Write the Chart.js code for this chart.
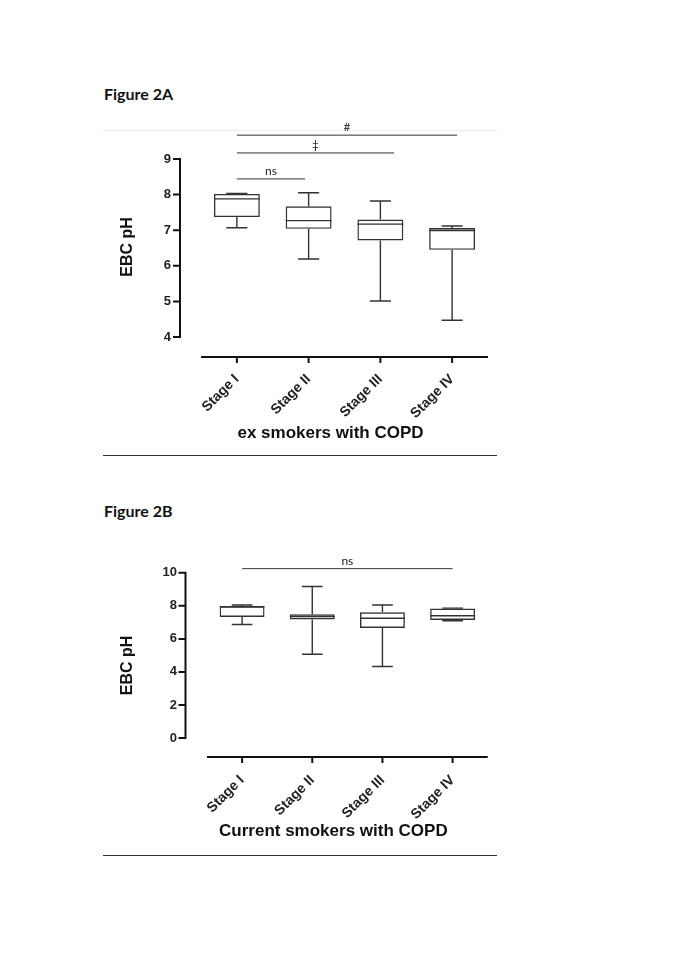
<!DOCTYPE html>
<html>
<head>
<meta charset="utf-8">
<script src="https://cdn.jsdelivr.net/npm/chart.js@4.4.0/dist/chart.umd.min.js"></script>
<style>
body{margin:0;background:#fff;width:685px;height:968px;position:relative;overflow:hidden}
.fig{position:absolute;left:104px;font:bold 16px Lato,sans-serif;color:#111}
.rule{position:absolute;left:103px;width:394px;height:1px;background:#333}
canvas{position:absolute}
</style>
</head>
<body>
<div class="fig" style="top:84px">Figure 2A</div>
<div class="rule" style="top:130px;background:#eee"></div>
<canvas id="chartA" width="400" height="335" style="left:100px;top:115px"></canvas>
<div class="rule" style="top:455px"></div>
<div class="fig" style="top:501px">Figure 2B</div>
<canvas id="chartB" width="400" height="315" style="left:100px;top:535px"></canvas>
<div class="rule" style="top:855px"></div>
<script>
const stages=["Stage I","Stage II","Stage III","Stage IV"]

// ex smokers with COPD
const minA=[7.07,6.19,5.01,4.47]
const q1A=[7.37,7.04,6.71,6.45]
const medA=[7.88,7.27,7.17,6.99]
const q3A=[8.02,7.67,7.30,7.06]
const maxA=[8.03,8.05,7.82,7.12]
const ticksA=[4,5,6,7,8,9]
const sigTextA=["ns","‡","#"]
const sigFromA=[0,0,0]
const sigToA=[0.95,2.19,3.07]
const sigLevelA=[8.44,9.17,9.67]

// current smokers with COPD
const minB=[6.87,5.07,4.33,7.10]
const q1B=[7.33,7.18,6.66,7.15]
const medB=[7.95,7.35,7.25,7.40]
const q3B=[7.97,7.49,7.61,7.84]
const maxB=[8.05,9.17,8.05,7.86]
const ticksB=[0,2,4,6,8,10]
const sigTextB=["ns"]
const sigFromB=[0]
const sigToB=[3]
const sigLevelB=[10.25]

const ink="#333"

/* medians + whiskers on top of the floating bars */
const boxExtras={
id:"boxExtras",
afterDatasetsDraw(chart,args,opts){
const {ctx,scales:{y}}=chart
const bars=chart.getDatasetMeta(0).data
ctx.save()
ctx.strokeStyle=ink
ctx.lineWidth=1.4
bars.forEach((bar,i)=>{
const cx=bar.x,half=bar.width/2,cap=bar.width*0.23
const yMed=y.getPixelForValue(opts.med[i])
const yMin=y.getPixelForValue(opts.min[i])
const yMax=y.getPixelForValue(opts.max[i])
const yQ1=y.getPixelForValue(opts.q1[i])
const yQ3=y.getPixelForValue(opts.q3[i])
ctx.beginPath()
ctx.moveTo(cx-half,yMed);ctx.lineTo(cx+half,yMed)
ctx.moveTo(cx,yQ3);ctx.lineTo(cx,yMax)
ctx.moveTo(cx-cap,yMax);ctx.lineTo(cx+cap,yMax)
ctx.moveTo(cx,yQ1);ctx.lineTo(cx,yMin)
ctx.moveTo(cx-cap,yMin);ctx.lineTo(cx+cap,yMin)
ctx.stroke()
})
ctx.restore()
}
}

/* prism style detached axes, significance bars and titles */
const prismAxes={
id:"prismAxes",
afterDraw(chart,args,opts){
const {ctx,chartArea,scales:{x,y}}=chart
const ax=chartArea.left-opts.yGap
const ay=chartArea.bottom+opts.xGap
ctx.save()
ctx.strokeStyle="#111"
ctx.lineWidth=2
ctx.beginPath()
ctx.moveTo(ax,y.getPixelForValue(y.min)+1)
ctx.lineTo(ax,y.getPixelForValue(y.max)-1)
y.ticks.forEach(t=>{
const py=y.getPixelForValue(t.value)
ctx.moveTo(ax-7,py);ctx.lineTo(ax,py)
})
ctx.moveTo(chartArea.left,ay);ctx.lineTo(chartArea.right,ay)
x.ticks.forEach((t,i)=>{
const px=x.getPixelForTick(i)
ctx.moveTo(px,ay);ctx.lineTo(px,ay+6)
})
ctx.stroke()

ctx.strokeStyle=ink
ctx.lineWidth=1
ctx.fillStyle="#222"
ctx.font="12px Lato, sans-serif"
ctx.textAlign="center"
ctx.textBaseline="bottom"
opts.sigText.forEach((s,i)=>{
const x0=x.getPixelForValue(opts.sigFrom[i])
const x1=x.getPixelForValue(opts.sigTo[i])
const py=y.getPixelForValue(opts.sigLevel[i])
ctx.beginPath()
ctx.moveTo(x0,py);ctx.lineTo(x1,py)
ctx.stroke()
ctx.fillText(s,(x0+x1)/2,py-2)
})

ctx.fillStyle="#111"
ctx.textBaseline="middle"
ctx.font="bold 17px 'Liberation Sans', Arial, sans-serif"
ctx.fillText(opts.xTitle,(chartArea.left+chartArea.right)/2-14,chartArea.bottom+opts.xTitleOffset)
ctx.translate(chartArea.left-opts.yTitleOffset,(chartArea.top+chartArea.bottom)/2+opts.yTitleShift)
ctx.rotate(-Math.PI/2)
ctx.font="bold 16px 'Liberation Sans', Arial, sans-serif"
ctx.fillText("EBC pH",0,0)
ctx.restore()
}
}

function makeChart(id,q1,q3,extras,axes,yMin,yMax,ticks,pad,xHeight,yWidth){
return new Chart(document.getElementById(id),{
type:"bar",
data:{
labels:stages,
datasets:[{
data:q1.map((v,i)=>[v,q3[i]]),
backgroundColor:"rgba(255,255,255,0)",
borderColor:ink,
borderWidth:1.4,
borderSkipped:false,
barPercentage:0.64,
categoryPercentage:1
}]
},
options:{
responsive:false,
animation:false,
layout:{padding:pad},
plugins:{
legend:{display:false},
tooltip:{enabled:false},
boxExtras:extras,
prismAxes:axes
},
scales:{
x:{
grid:{display:false,drawTicks:false},
border:{display:false},
ticks:{
color:"#222",
font:{family:"'Liberation Sans', Arial, sans-serif",size:14,weight:"bold"},
minRotation:45,maxRotation:45,autoSkip:false,padding:34
},
afterFit(s){s.height=xHeight}
},
y:{
min:yMin,max:yMax,
grid:{display:false,drawTicks:false},
border:{display:false},
afterBuildTicks(s){s.ticks=ticks.map(v=>({value:v}))},
ticks:{
color:"#222",
font:{family:"'Liberation Sans', Arial, sans-serif",size:13,weight:"bold"},
padding:30
},
afterFit(s){s.width=yWidth}
}
}
},
plugins:[boxExtras,prismAxes]
})
}

makeChart("chartA",q1A,q3A,
{min:minA,med:medA,max:maxA,q1:q1A,q3:q3A},
{yGap:21,xGap:20,sigText:sigTextA,sigFrom:sigFromA,sigTo:sigToA,sigLevel:sigLevelA,
xTitle:"ex smokers with COPD",xTitleOffset:96,yTitleOffset:73,yTitleShift:-1},
4,9,ticksA,{top:44,right:12,left:0,bottom:0},113,101)

makeChart("chartB",q1B,q3B,
{min:minB,med:medB,max:maxB,q1:q1B,q3:q3B},
{yGap:21.5,xGap:19,sigText:sigTextB,sigFrom:sigFromB,sigTo:sigToB,sigLevel:sigLevelB,
xTitle:"Current smokers with COPD",xTitleOffset:93,yTitleOffset:79,yTitleShift:10},
0,10,ticksB,{top:28,right:12,left:0,bottom:0},112,107)
</script>
</body>
</html>
